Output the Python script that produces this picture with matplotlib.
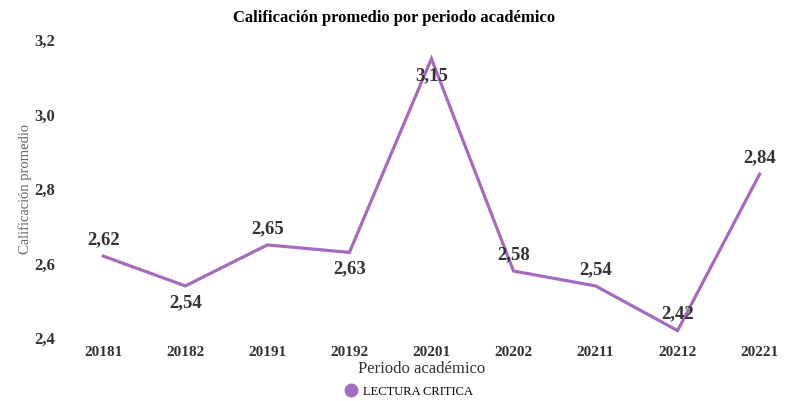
import matplotlib.pyplot as plt
from matplotlib.ticker import FuncFormatter
from matplotlib.lines import Line2D

periodos = ["20181", "20182", "20191", "20192", "20201", "20202", "20211", "20212", "20221"]
promedios = [2.62, 2.54, 2.65, 2.63, 3.15, 2.58, 2.54, 2.42, 2.84]
serie = "LECTURA CRITICA"

# label above (+1) or below (-1) the point
lado = [1, -1, 1, -1, -1, 1, 1, 1, 1]

color = "#a66bbe"
plt.rcParams['font.family'] = ['Liberation Serif', 'DejaVu Serif']

fig = plt.figure(figsize=(7.88, 4.01), dpi=100)
ax = fig.add_axes([0.079, 0.157, 0.911, 0.743])

x = list(range(len(periodos)))
ax.plot(x, promedios, color=color, linewidth=2.3, solid_joinstyle='miter')

for xi, v, s in zip(x, promedios, lado):
    ax.annotate(f"{v:.2f}".replace(".", ","), (xi, v), xytext=(0, 12 * s),
                textcoords="offset points", ha="center", va="center",
                fontsize=13.5, fontweight="bold", color="#333333")

ax.set_ylim(2.4, 3.2)
ax.set_xlim(-0.5, 8.25)
ax.set_yticks([2.4, 2.6, 2.8, 3.0, 3.2])
ax.yaxis.set_major_formatter(FuncFormatter(lambda v, p: f"{v:.1f}".replace(".", ",")))
ax.set_xticks(x)
ax.set_xticklabels(periodos)
for lab in ax.get_xticklabels():
    lab.set_fontweight("bold")
    lab.set_fontsize(11)
    lab.set_color("#333333")
for lab in ax.get_yticklabels():
    lab.set_fontweight("bold")
    lab.set_fontsize(12)
    lab.set_color("#333333")
ax.tick_params(length=0, pad=6)
ax.tick_params(axis='y', pad=5)
for sp in ax.spines.values():
    sp.set_visible(False)

ax.set_xlabel("Periodo académico", fontsize=12, color="#333333", labelpad=1)
ax.set_ylabel("Calificación promedio", fontsize=10.5, color="#666666", labelpad=2)
fig.suptitle("Calificación promedio por periodo académico", fontsize=12,
             fontweight="bold", y=0.975)

handle = Line2D([], [], marker="o", color=color, linestyle="none", markersize=9)
fig.legend([handle], [serie], loc="lower center", bbox_to_anchor=(0.515, -0.01),
           frameon=False, fontsize=9, handletextpad=0.0, borderaxespad=0.2)

fig.savefig("out.png", dpi=100)
